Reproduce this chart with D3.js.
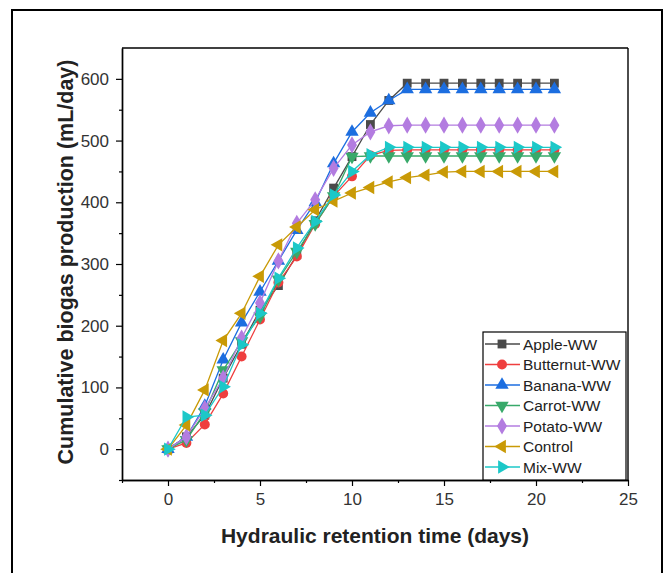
<!DOCTYPE html>
<html>
<head>
<meta charset="utf-8">
<script src="https://cdn.jsdelivr.net/npm/d3@7"></script>
<style>
  body { margin: 0; background: #fff; }
  svg { display: block; font-family: "Liberation Sans", Arial, sans-serif; }
</style>
</head>
<body>
<svg id="chart" width="665" height="573"></svg>
<script>
// days 0..21
var days = d3.range(0, 22);

var apple     = [0, 20, 55, 115, 170, 225, 265, 315, 370, 423, 474, 526, 565, 593, 593, 593, 593, 593, 593, 593, 593, 593];
var butternut = [0, 10, 40, 90, 150, 210, 270, 312, 365, 410, 442, 476, 484, 485, 485, 485, 485, 485, 485, 485, 485, 485];
var banana    = [0, 20, 70, 145, 205, 255, 305, 355, 400, 463, 514, 545, 565, 583, 583, 583, 583, 583, 583, 583, 583, 583];
var carrot    = [0, 15, 60, 128, 175, 215, 275, 320, 365, 410, 474, 475, 475, 475, 475, 475, 475, 475, 475, 475, 475, 475];
var potato    = [0, 20, 66, 115, 180, 237, 305, 366, 404, 455, 493, 514, 524, 525, 525, 525, 525, 525, 525, 525, 525, 525];
var control   = [0, 39, 96, 176, 220, 280, 331, 360, 388, 402, 415, 424, 433, 440, 444, 449, 450, 450, 450, 450, 450, 450];
var mix       = [0, 52, 55, 101, 169, 220, 277, 326, 369, 412, 450, 477, 489, 489, 489, 489, 489, 489, 489, 489, 489, 489];

var seriesNames = ["Apple-WW", "Butternut-WW", "Banana-WW", "Carrot-WW", "Potato-WW", "Control", "Mix-WW"];
var seriesValues = [apple, butternut, banana, carrot, potato, control, mix];
var seriesColors = ["#4a4a4a", "#ef3e3e", "#1c6ee0", "#38a96a", "#b37ce0", "#c99a06", "#1cc8c8"];
var seriesShapes = ["square", "circle", "up", "down", "diamond", "left", "right"];

var xTicks = [0, 5, 10, 15, 20, 25];
var yTicks = [0, 100, 200, 300, 400, 500, 600];

var svg = d3.select("#chart");

// outer frame
svg.append("rect")
    .attr("x", 12).attr("y", 10)
    .attr("width", 650).attr("height", 600)
    .attr("fill", "none").attr("stroke", "#000").attr("stroke-width", 2);

var plot = { left: 122, top: 48, right: 628, bottom: 480 };

var x = d3.scaleLinear().domain([-2.5, 25]).range([plot.left, plot.right]);
var y = d3.scaleLinear().domain([-50, 650]).range([plot.bottom, plot.top]);

// axes
svg.append("g")
    .attr("transform", "translate(0," + plot.bottom + ")")
    .call(d3.axisBottom(x).tickValues(xTicks).tickSize(6).tickPadding(7).tickSizeOuter(0));
svg.append("g")
    .attr("transform", "translate(0," + plot.bottom + ")")
    .call(d3.axisBottom(x).tickValues(d3.range(-2.5, 25, 5)).tickSize(3).tickFormat("").tickSizeOuter(0));
svg.append("g")
    .attr("transform", "translate(" + plot.left + ",0)")
    .call(d3.axisLeft(y).tickValues(yTicks).tickSize(6).tickPadding(7).tickSizeOuter(0));
svg.append("g")
    .attr("transform", "translate(" + plot.left + ",0)")
    .call(d3.axisLeft(y).tickValues(d3.range(-50, 650, 100)).tickSize(3).tickFormat("").tickSizeOuter(0));

svg.selectAll(".domain").attr("stroke", "#000").attr("stroke-width", 1.4);
svg.selectAll(".tick line").attr("stroke", "#000").attr("stroke-width", 1.2);
svg.selectAll(".tick text")
    .attr("fill", "#333")
    .style("font-size", "17px");

// top and right frame of plot
svg.append("line")
    .attr("x1", plot.left).attr("y1", plot.top).attr("x2", plot.right).attr("y2", plot.top)
    .attr("stroke", "#000").attr("stroke-width", 1.4);
svg.append("line")
    .attr("x1", plot.right).attr("y1", plot.top).attr("x2", plot.right).attr("y2", plot.bottom)
    .attr("stroke", "#000").attr("stroke-width", 1.4);

// titles
svg.append("text")
    .attr("x", 375).attr("y", 543)
    .attr("text-anchor", "middle")
    .attr("fill", "#222")
    .style("font-size", "21px").style("font-weight", "bold")
    .text("Hydraulic retention time (days)");

svg.append("text")
    .attr("transform", "translate(73,262) rotate(-90)")
    .attr("text-anchor", "middle")
    .attr("fill", "#222")
    .style("font-size", "21.5px").style("font-weight", "bold")
    .text("Cumulative biogas production (mL/day)");

// marker shapes
function symbolFor(shape) {
    var s = 78;
    if (shape == "square") return d3.symbol().type(d3.symbolSquare).size(s)();
    if (shape == "circle") return d3.symbol().type(d3.symbolCircle).size(s)();
    if (shape == "diamond") return d3.symbol().type(d3.symbolDiamond).size(s * 1.1)();
    return d3.symbol().type(d3.symbolTriangle).size(s)();
}
function rotFor(shape) {
    if (shape == "down") return 180;
    if (shape == "left") return -90;
    if (shape == "right") return 90;
    return 0;
}

var line = d3.line()
    .x(function(d, i) { return x(days[i]); })
    .y(function(d) { return y(d); });

seriesValues.forEach(function(vals, k) {
    var g = svg.append("g");
    g.append("path")
        .attr("d", line(vals))
        .attr("fill", "none")
        .attr("stroke", seriesColors[k])
        .attr("stroke-width", 1.3);
    g.selectAll("path.pt")
        .data(vals)
        .enter().append("path")
        .attr("class", "pt")
        .attr("d", symbolFor(seriesShapes[k]))
        .attr("transform", function(d, i) {
            return "translate(" + x(days[i]) + "," + y(d) + ") rotate(" + rotFor(seriesShapes[k]) + ")";
        })
        .attr("fill", seriesColors[k]);
});

// legend
var legend = svg.append("g");
legend.append("rect")
    .attr("x", 483).attr("y", 332)
    .attr("width", 143).attr("height", 148)
    .attr("fill", "#fff").attr("stroke", "#000").attr("stroke-width", 1.2);

seriesNames.forEach(function(name, k) {
    var ly = 344 + k * 20.5;
    legend.append("line")
        .attr("x1", 485).attr("x2", 520).attr("y1", ly).attr("y2", ly)
        .attr("stroke", seriesColors[k]).attr("stroke-width", 1.3);
    legend.append("path")
        .attr("d", symbolFor(seriesShapes[k]))
        .attr("transform", "translate(502," + ly + ") rotate(" + rotFor(seriesShapes[k]) + ")")
        .attr("fill", seriesColors[k]);
    legend.append("text")
        .attr("x", 523).attr("y", ly + 5.5)
        .attr("fill", "#222")
        .style("font-size", "15.5px")
        .text(name);
});
</script>
</body>
</html>
